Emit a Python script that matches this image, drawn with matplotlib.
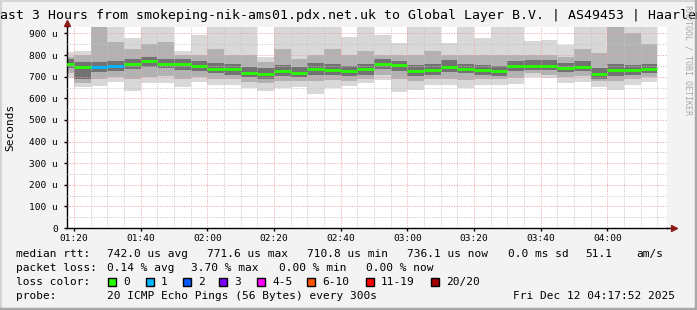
import matplotlib
matplotlib.use("Agg")
import matplotlib.pyplot as plt
from matplotlib.patches import Rectangle
from matplotlib.lines import Line2D
from matplotlib.ticker import MultipleLocator, FixedLocator

MONO = "DejaVu Sans Mono"

# 5 minute steps, end minute of each step (minutes after midnight)
step_end = [80, 85, 90, 95, 100, 105, 110, 115, 120, 125, 130, 135,
            140, 145, 150, 155, 160, 165, 170, 175, 180, 185, 190, 195,
            200, 205, 210, 215, 220, 225, 230, 235, 240, 245, 250, 255]

# median rtt in microseconds
median = [760, 745, 745, 751, 759, 771, 760, 760, 751, 737, 737, 719,
          714, 727, 719, 737, 733, 727, 734, 760, 754, 727, 733, 745,
          737, 733, 727, 751, 751, 751, 742, 747, 711, 733, 733, 736]
# lost pings per step (out of 20)
loss = [0, 0, 1, 1, 0, 0, 0, 0, 0, 0, 0, 0,
        0, 0, 0, 0, 0, 0, 0, 0, 0, 0, 0, 0,
        0, 0, 0, 0, 0, 0, 0, 0, 0, 0, 0, 0]

# smoke: slowest / fastest ping and two inner bands
smoke_max = [816, 819, 960, 960, 881, 960, 960, 820, 893, 960, 960, 960,
             793, 960, 960, 960, 960, 885, 960, 893, 855, 960, 960, 855,
             960, 878, 960, 960, 865, 870, 847, 960, 960, 960, 960, 960]
smoke_min = [693, 654, 657, 677, 636, 670, 670, 654, 677, 662, 662, 648,
             636, 646, 652, 620, 646, 655, 669, 685, 631, 639, 662, 662,
             646, 662, 662, 665, 700, 693, 670, 677, 654, 639, 662, 674]
band2_hi = [790, 800, 930, 860, 830, 850, 860, 800, 800, 830, 800, 800,
            770, 830, 780, 800, 830, 800, 820, 800, 800, 800, 820, 800,
            800, 800, 800, 800, 800, 800, 790, 830, 810, 930, 900, 850]
band2_lo = [715, 670, 690, 700, 690, 700, 705, 690, 700, 690, 690, 675,
            670, 680, 680, 680, 685, 680, 690, 710, 690, 680, 690, 690,
            685, 690, 690, 695, 715, 710, 700, 705, 680, 680, 690, 700]
band1_hi = [780, 770, 770, 775, 780, 790, 780, 780, 775, 765, 760, 745,
            740, 755, 745, 765, 760, 750, 760, 780, 775, 755, 760, 775,
            760, 755, 750, 775, 775, 775, 765, 775, 740, 760, 755, 760]
band1_lo = [740, 690, 720, 725, 735, 745, 740, 730, 725, 715, 710, 700,
            690, 705, 700, 710, 710, 705, 710, 735, 725, 705, 710, 720,
            715, 710, 705, 725, 730, 730, 720, 725, 690, 705, 710, 715]

t_start, t_end = 77.87, 257.87
x_ticks = [80, 100, 120, 140, 160, 180, 200, 220, 240]
x_labels = ["01:20", "01:40", "02:00", "02:20", "02:40", "03:00", "03:20", "03:40", "04:00"]
y_ticks = [0, 100, 200, 300, 400, 500, 600, 700, 800, 900]
y_labels = ["0", "100 u", "200 u", "300 u", "400 u", "500 u", "600 u", "700 u", "800 u", "900 u"]

loss_names = ["0", "1", "2", "3", "4-5", "6-10", "11-19", "20/20"]
loss_colors = ["#26ff00", "#00b8ff", "#0059ff", "#7e00ff", "#ff00ff", "#ff5500", "#ff0000", "#a10000"]

title = "Last 3 Hours from smokeping-nik-ams01.pdx.net.uk to Global Layer B.V. | AS49453 | Haarlem"

W, H = 697, 310
fig = plt.figure(figsize=(W / 100, H / 100), dpi=100, facecolor="#f3f3f3")
ax = fig.add_axes([67 / W, 82 / H, 600 / W, 201 / H])
ax.set_facecolor("white")
ax.set_xlim(t_start, t_end)
ax.set_ylim(0, 930)

left = [e - 5 for e in step_end]
ax.bar(left, [a - b for a, b in zip(smoke_max, smoke_min)], width=5, bottom=smoke_min,
       align="edge", color="#d8d8d8", linewidth=0, zorder=1)
ax.bar(left, [a - b for a, b in zip(band2_hi, band2_lo)], width=5, bottom=band2_lo,
       align="edge", color="#b2b2b2", linewidth=0, zorder=1)
ax.bar(left, [a - b for a, b in zip(band1_hi, band1_lo)], width=5, bottom=band1_lo,
       align="edge", color="#727272", linewidth=0, zorder=1)


def loss_color(n):
    if n <= 3:
        return loss_colors[n]
    if n <= 5:
        return loss_colors[4]
    if n <= 10:
        return loss_colors[5]
    if n <= 19:
        return loss_colors[6]
    return loss_colors[7]


ax.hlines(median, left, step_end, colors=[loss_color(n) for n in loss], linewidth=2, zorder=4)

# grid
ax.xaxis.set_major_locator(FixedLocator(x_ticks))
ax.xaxis.set_minor_locator(MultipleLocator(5))
ax.yaxis.set_major_locator(FixedLocator(y_ticks))
ax.yaxis.set_minor_locator(MultipleLocator(50))
ax.set_xticklabels(x_labels)
ax.set_yticklabels(y_labels)
ax.grid(which="minor", color="#c4c4c4", linestyle=(0, (1, 1.5)), linewidth=0.7, zorder=2)
ax.grid(which="major", color="#f0a0a0", linestyle=(0, (1, 1.5)), linewidth=0.7, zorder=2)
ax.set_axisbelow(False)

for s in ["top", "right"]:
    ax.spines[s].set_visible(False)
ax.spines["left"].set_linewidth(1)
ax.spines["bottom"].set_linewidth(1)
ax.tick_params(which="major", length=2, width=1, pad=2.5, labelsize=6.8, labelfontfamily=MONO)
ax.tick_params(axis="y", which="major", pad=4.5)
ax.tick_params(which="minor", length=0)

# axis arrows
ax.plot([1.0, 1.012], [0, 0], color="black", lw=1, transform=ax.transAxes, clip_on=False)
ax.plot([1.012], [0], marker=">", color="#8b1a1a", ms=4.5, transform=ax.transAxes, clip_on=False)
ax.plot([0, 0], [1.0, 1.02], color="black", lw=1, transform=ax.transAxes, clip_on=False)
ax.plot([0], [1.02], marker="^", color="#8b1a1a", ms=4.5, transform=ax.transAxes, clip_on=False)


def ftext(x, y, s, **kw):
    kw.setdefault("family", MONO)
    kw.setdefault("fontsize", 8.0)
    kw.setdefault("va", "center")
    fig.text(x / W, 1 - y / H, s, **kw)


ftext(W / 2, 16, title, ha="center", fontsize=9.5)
ftext(10, 127, "Seconds", ha="center", rotation=90)
ftext(688, 60, "RRDTOOL / TOBI OETIKER", ha="center", rotation=270, fontsize=6, color="#a8a8a8")

# legend lines
y1, y2, y3, y4 = 254, 268, 282, 296
ftext(16, y1, "median rtt:")
ftext(107, y1, "742.0 us avg")
ftext(207, y1, "771.6 us max")
ftext(307, y1, "710.8 us min")
ftext(407, y1, "736.1 us now")
ftext(508, y1, "0.0 ms sd")
ftext(585, y1, "51.1")
ftext(636, y1, "am/s")

ftext(16, y2, "packet loss:")
ftext(107, y2, "0.14 % avg")
ftext(191, y2, "3.70 % max")
ftext(279, y2, "0.00 % min")
ftext(366, y2, "0.00 % now")

ftext(16, y3, "loss color:")
box_x = [108, 146, 183, 219, 257, 307, 366, 431]
for bx, name, col in zip(box_x, loss_names, loss_colors):
    fig.add_artist(Rectangle((bx / W, 1 - (y3 + 4) / H), 8 / W, 8 / H, transform=fig.transFigure,
                             facecolor=col, edgecolor="black", linewidth=1))
    ftext(bx + 15, y3, name)

ftext(16, y4, "probe:")
ftext(107, y4, "20 ICMP Echo Pings (56 Bytes) every 300s")
ftext(513, y4, "Fri Dec 12 04:17:52 2025")

# frame
fig.add_artist(Line2D([0, 1], [1 - 1 / H, 1 - 1 / H], color="#d4d4d4", lw=1.5, transform=fig.transFigure))
fig.add_artist(Line2D([1 / W, 1 / W], [0, 1], color="#d4d4d4", lw=1.5, transform=fig.transFigure))
fig.add_artist(Line2D([1 - 1.5 / W, 1 - 1.5 / W], [0, 1], color="#a9a9a9", lw=2.5, transform=fig.transFigure))
fig.add_artist(Line2D([0, 1], [1.5 / H, 1.5 / H], color="#a9a9a9", lw=2.5, transform=fig.transFigure))

fig.savefig("out.png", dpi=100, facecolor=fig.get_facecolor())
